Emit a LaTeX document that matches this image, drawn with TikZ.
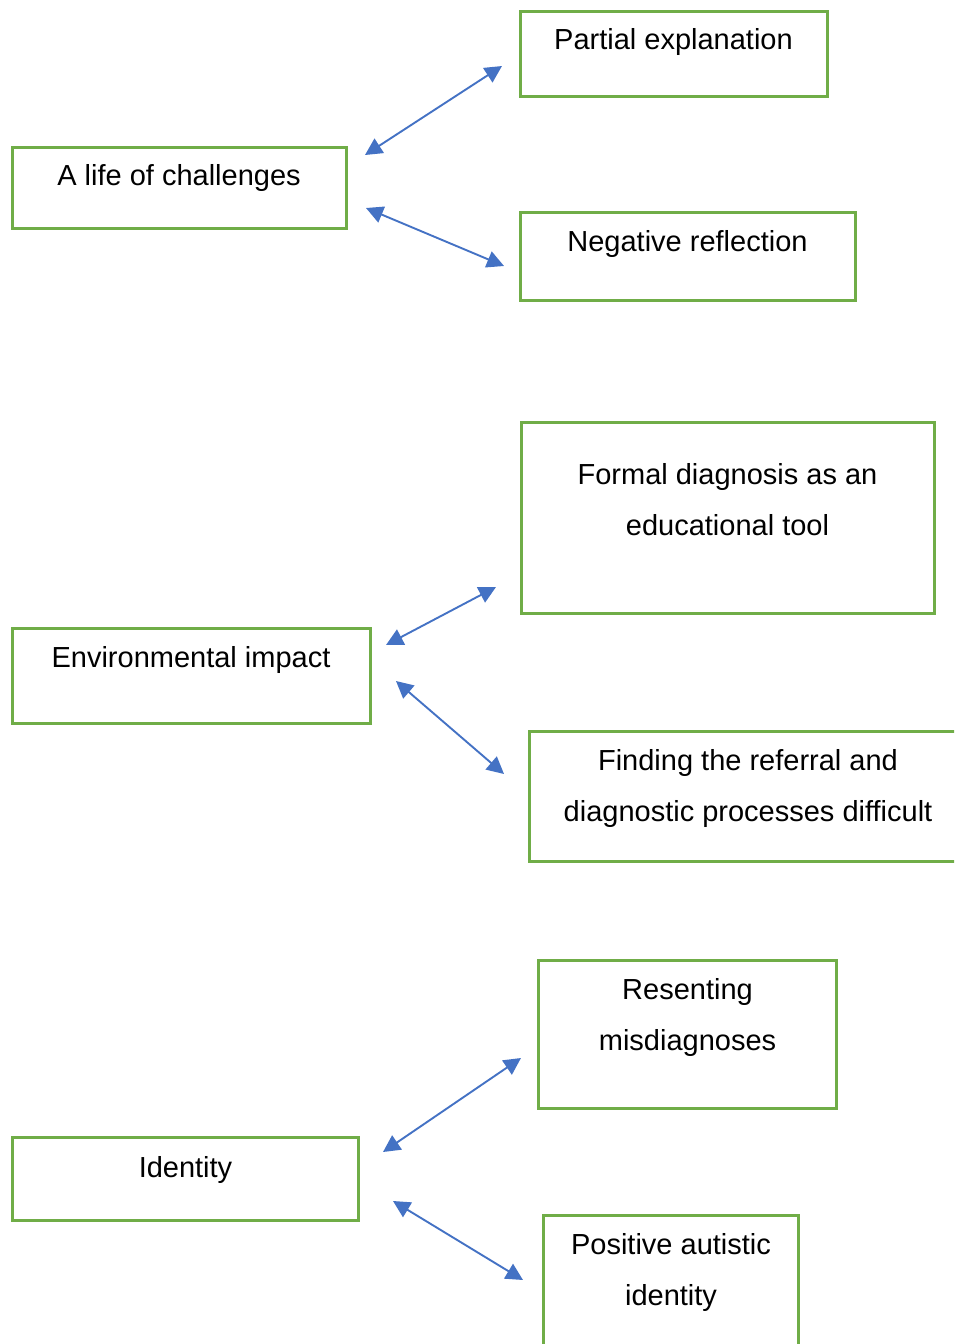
\documentclass[tikz,border=0pt]{standalone}
\usepackage{fontspec}
\setmainfont{Liberation Sans}
\usetikzlibrary{arrows.meta}
\definecolor{boxgreen}{HTML}{70AD47}
\definecolor{arrblue}{HTML}{4472C4}
\tikzset{
  box/.style={draw=boxgreen, line width=3pt, fill=none, inner sep=0pt, outer sep=0pt, anchor=north west},
  txt/.style={anchor=base, inner sep=0pt, align=center, font=\fontsize{29}{51}\selectfont},
  link/.style={draw=arrblue, line width=1.9pt, {Triangle[length=17pt,width=17pt]}-{Triangle[length=17pt,width=17pt]}}
}
\begin{document}
\begin{tikzpicture}[x=1pt,y=-1pt]
\useasboundingbox (0,0) rectangle (954,1344);
\clip (0,0) rectangle (954,1344);
% boxes
\node[box, minimum width=307pt, minimum height=85pt] (b1) at (520,11) {};
\node[box, minimum width=335pt, minimum height=88pt] (b2) at (520,212) {};
\node[box, minimum width=334pt, minimum height=81pt] (b3) at (12,147) {};
\node[box, minimum width=413pt, minimum height=191pt] (b4) at (521,422) {};
\node[box, minimum width=358pt, minimum height=95pt] (b5) at (12,628) {};
\node[box, minimum width=438pt, minimum height=130pt] (b6) at (529,731) {};
\node[box, minimum width=298pt, minimum height=148pt] (b7) at (538,960) {};
\node[box, minimum width=346pt, minimum height=83pt] (b8) at (12,1137) {};
\node[box, minimum width=255pt, minimum height=150pt] (b9) at (543,1215) {};
% texts (base anchor = last line baseline)
\node[txt] (t1) at (673.5,49) {Partial explanation};
\node[txt] (t2) at (687.5,251) {Negative reflection};
\node[txt] (t3) at (179,185) {A life of challenges};
\node[txt] (t4) at (727.5,535) {Formal diagnosis as an\\educational tool};
\node[txt] (t5) at (191,667) {Environmental impact};
\node[txt] (t6) at (748,821) {Finding the referral and\\diagnostic processes difficult};
\node[txt] (t7) at (687.5,1050) {Resenting\\misdiagnoses};
\node[txt] (t8) at (185.5,1177) {Identity};
\node[txt] (t9) at (671,1305) {Positive autistic\\identity};
% arrow ends
\coordinate (a1s) at (365,155); \coordinate (a1e) at (502,66);
\coordinate (a2s) at (366,208); \coordinate (a2e) at (504,266);
\coordinate (a3s) at (386,645); \coordinate (a3e) at (496,587);
\coordinate (a4s) at (396,681); \coordinate (a4e) at (504,774);
\coordinate (a5s) at (383,1152); \coordinate (a5e) at (521,1058);
\coordinate (a6s) at (393,1201); \coordinate (a6e) at (523,1280);
\draw[link] (a1s) -- (a1e);
\draw[link] (a2s) -- (a2e);
\draw[link] (a3s) -- (a3e);
\draw[link] (a4s) -- (a4e);
\draw[link] (a5s) -- (a5e);
\draw[link] (a6s) -- (a6e);
\end{tikzpicture}
\end{document}
